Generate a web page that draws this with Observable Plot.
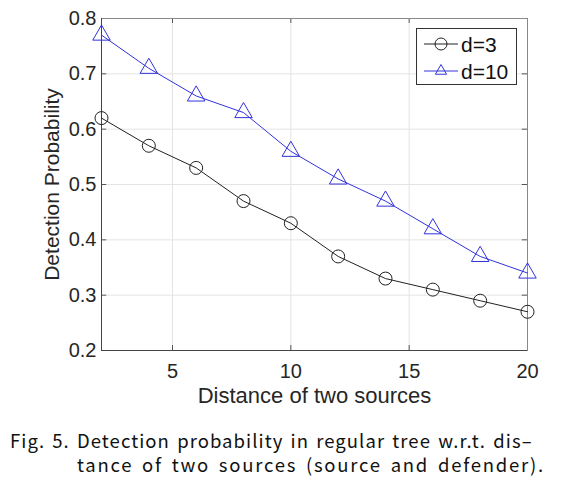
<!DOCTYPE html>
<html><head><meta charset="utf-8">
<script src="https://cdn.jsdelivr.net/npm/d3@7"></script>
<script src="https://cdn.jsdelivr.net/npm/@observablehq/plot@0.6"></script>
<style>
body{margin:0;background:#fff;}
#wrap{position:relative;width:576px;}
#cap{font-family:"Noto Sans CJK KR","Liberation Sans",sans-serif;font-size:18.5px;color:#111;line-height:24px;margin-top:18px;white-space:nowrap;}
#cap div.l1{padding-left:10px;letter-spacing:1.05px;word-spacing:2px;}
#cap div.l2{padding-left:77px;letter-spacing:1.75px;word-spacing:3px;}
</style></head><body>
<div id="wrap"><div id="chart"></div>
<div id="cap"><div class="l1">Fig. 5. Detection probability in regular tree w.r.t. dis–</div><div class="l2">tance of two sources (source and defender).</div></div></div>
<script>
const distances = [2,4,6,8,10,12,14,16,18,20];
const d3vals = [0.62,0.57,0.53,0.47,0.43,0.37,0.33,0.31,0.29,0.27];
const d10vals = [0.77,0.71,0.66,0.63,0.56,0.51,0.47,0.42,0.37,0.34];
const seriesNames = ["d=3","d=10"];
const xTicks = [5,10,15,20];
const yTicks = [0.2,0.3,0.4,0.5,0.6,0.7,0.8];
const xLabel = "Distance of two sources";
const yLabel = "Detection Probability";

const s3 = distances.map((x,i)=>({x, y:d3vals[i]}));
const s10 = distances.map((x,i)=>({x, y:d10vals[i]}));
const blue = "#3232dc";
const font = "Liberation Sans, Arial, sans-serif";

const chart = Plot.plot({
  width:576, height:410,
  marginLeft:101, marginRight:49, marginTop:18, marginBottom:60,
  style:{fontFamily:font, fontSize:"20px", color:"#262626", background:"#fff"},
  x:{domain:[2,20], ticks:xTicks, label:null},
  y:{domain:[0.2,0.8], ticks:yTicks, label:null},
  marks:[
    Plot.gridX(xTicks,{stroke:"#e4e4e4", strokeOpacity:1}),
    Plot.gridY(yTicks,{stroke:"#e4e4e4", strokeOpacity:1}),
    Plot.ruleX(xTicks,{y1:0.2,y2:0.209,stroke:"#555"}),
    Plot.ruleX(xTicks,{y1:0.8,y2:0.791,stroke:"#555"}),
    Plot.ruleY(yTicks,{x1:2,x2:2.22,stroke:"#555"}),
    Plot.ruleY(yTicks,{x1:20,x2:19.78,stroke:"#555"}),
    Plot.frame({stroke:"#888"}),
    Plot.axisX(xTicks,{tickSize:0, tickPadding:13, tickFormat:d=>d, fontSize:20, fill:"#262626"}),
    Plot.axisY(yTicks,{tickSize:0, tickPadding:5, tickFormat:d=>d.toFixed(1), fontSize:20, fill:"#262626"}),
    Plot.ruleX([2],{y1:0.2,y2:0.8,stroke:"#444"}),
    Plot.ruleY([0.2],{x1:2,x2:20,stroke:"#444"}),
    Plot.line(s3,{x:"x",y:"y",stroke:"#222",strokeWidth:1}),
    Plot.dot(s3,{x:"x",y:"y",r:6.5,stroke:"#222",fill:"none",strokeWidth:1}),
    Plot.line(s10,{x:"x",y:"y",stroke:blue,strokeWidth:1}),
    Plot.dot(s10,{x:"x",y:"y",r:6.5,symbol:"triangle",stroke:blue,fill:"none",strokeWidth:1}),
    Plot.text([xLabel],{frameAnchor:"bottom",dy:52,fontSize:22,fill:"#262626",fontFamily:font}),
    Plot.text([yLabel],{frameAnchor:"left",textAnchor:"middle",dx:-49,rotate:-90,fontSize:21,fill:"#262626",fontFamily:font})
  ]
});
document.getElementById("chart").appendChild(chart);

// legend (box in the upper right of the axes)
const svg = d3.select(chart);
const g = svg.append("g").attr("font-family",font).attr("font-size",21).attr("text-anchor","start");
g.append("rect").attr("x",416.5).attr("y",28.5).attr("width",100).attr("height",56).attr("fill","#fff").attr("stroke","#333");
const items = [{name:seriesNames[0],color:"#222",sym:"circle"},{name:seriesNames[1],color:blue,sym:"triangle"}];
items.forEach((it,i)=>{
  const cy = 44 + i*27;
  g.append("line").attr("x1",424).attr("x2",458).attr("y1",cy).attr("y2",cy).attr("stroke",it.color);
  if(it.sym==="circle"){
    g.append("circle").attr("cx",441).attr("cy",cy).attr("r",6).attr("fill","none").attr("stroke",it.color);
  } else {
    g.append("path").attr("d",d3.symbol(d3.symbolTriangle2,90)()).attr("transform",`translate(441,${cy})`).attr("fill","none").attr("stroke",it.color);
  }
  g.append("text").attr("x",461).attr("y",cy+7.5).attr("fill","#111").text(it.name);
});
</script></body></html>
